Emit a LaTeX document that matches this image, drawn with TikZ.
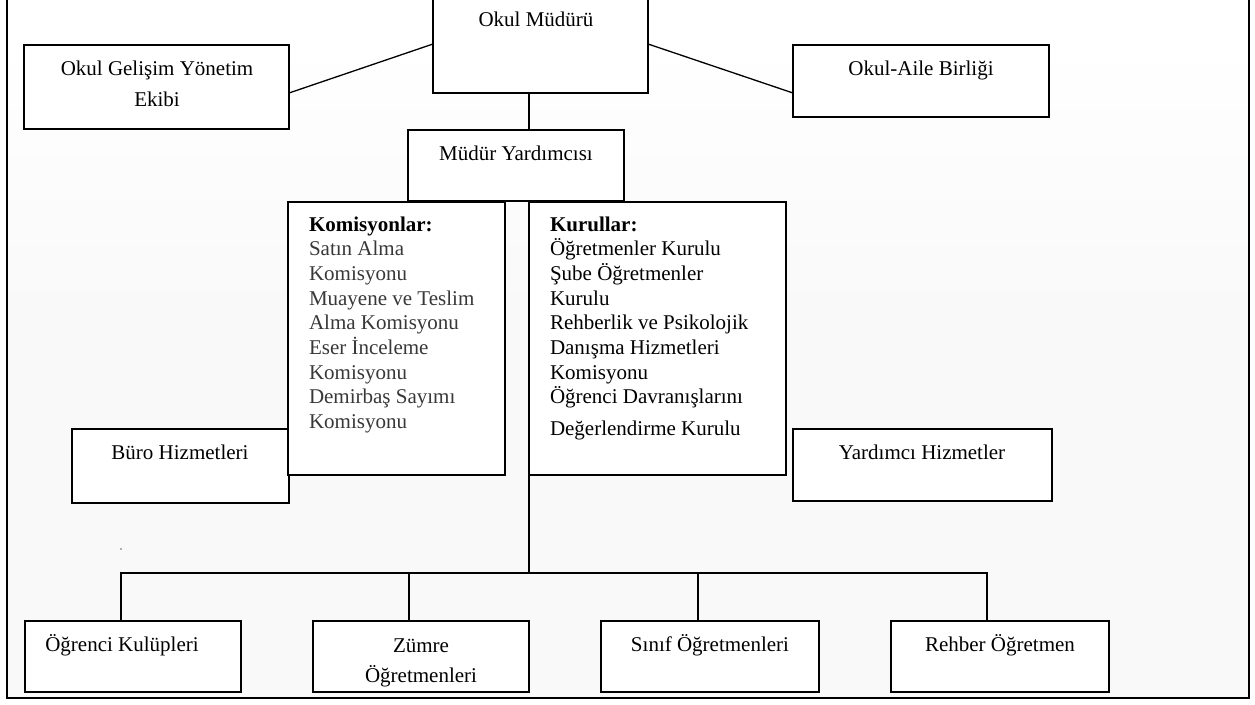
\documentclass[tikz,border=0pt]{standalone}
\usepackage{fontspec}
\setmainfont{Liberation Serif}
\begin{document}
\begin{tikzpicture}[x=1pt,y=-1pt,
  frame/.style={draw=black,line width=1.8pt},
  box/.style={draw=black,line width=1.3pt,fill=white,inner sep=0pt,outer sep=0pt,rectangle,anchor=north west},
  conn/.style={draw=black,line width=1.3pt},
  txt/.style={inner sep=0pt,outer sep=0pt,font=\fontsize{21}{24.7}\selectfont,anchor=base},
  itm/.style={txt,anchor=base west},
  gitm/.style={itm,text=black!78},
]
\useasboundingbox (0,0) rectangle (1255,704);
\begin{scope}
\clip (0,0) rectangle (1255,704);
% background
\fill[white] (0,0) rectangle (1255,704);
\shade[top color=white,bottom color=gray!5] (7,40) rectangle (1249,330);
\fill[gray!5] (7,330) rectangle (1249,698);
\draw[frame] (7,-5) -- (7,698) -- (1249,698) -- (1249,-5);

% top level
\node[box,minimum width=215,minimum height=98] (mudur) at (433,-5) {};
\node[txt] (tmudur) at (536,27) {Okul Müdürü};

\node[box,minimum width=265,minimum height=84] (ogye) at (24,45) {};
\node[txt] (togye1) at (157,75) {Okul Gelişim Yönetim};
\node[txt] (togye2) at (157,106) {Ekibi};

\node[box,minimum width=256,minimum height=72] (oa) at (793,45) {};
\node[txt] (toa) at (921,75) {Okul-Aile Birliği};

\node[box,minimum width=216,minimum height=71] (my) at (408,130) {};
\node[txt] (tmy) at (516,160) {Müdür Yardımcısı};

% side boxes
\node[box,minimum width=217,minimum height=74] (buro) at (72,429) {};
\node[txt] (tburo) at (180,459) {Büro Hizmetleri};

\node[box,minimum width=259,minimum height=72] (yard) at (793,429) {};
\node[txt] (tyard) at (922,459) {Yardımcı Hizmetler};

% lists
\node[box,minimum width=217,minimum height=273] (kom) at (288,202) {};
\node[itm] (kom0) at (309,231) {\textbf{Komisyonlar:}};
\foreach \t [count=\i] in {Satın Alma,Komisyonu,Muayene ve Teslim,Alma Komisyonu,Eser İnceleme,Komisyonu,Demirbaş Sayımı,Komisyonu}
  \node[gitm] (kom\i) at (309,231+24.7*\i) {\t};

\node[box,minimum width=257,minimum height=273] (kur) at (529,202) {};
\node[itm] (kur0) at (550,231) {\textbf{Kurullar:}};
\foreach \t [count=\i] in {Öğretmenler Kurulu,Şube Öğretmenler,Kurulu,Rehberlik ve Psikolojik,Danışma Hizmetleri,Komisyonu,Öğrenci Davranışlarını}
  \node[itm] (kur\i) at (550,231+24.7*\i) {\t};
\node[itm] (kur8) at (550,435) {Değerlendirme Kurulu};

% bottom row
\node[box,minimum width=216,minimum height=71] (ok) at (25,621) {};
\node[txt] (tok) at (122,651) {Öğrenci Kulüpleri};
\node[box,minimum width=216,minimum height=71] (zum) at (313,621) {};
\node[txt] (tzum1) at (421,652) {Zümre};
\node[txt] (tzum2) at (421,682) {Öğretmenleri};
\node[box,minimum width=218,minimum height=71] (sinif) at (601,621) {};
\node[txt] (tsinif) at (710,651) {Sınıf Öğretmenleri};
\node[box,minimum width=218,minimum height=71] (reh) at (891,621) {};
\node[txt] (treh) at (1000,651) {Rehber Öğretmen};

% connectors
\draw[conn] ([yshift=-6pt]ogye.east) -- (mudur.west);
\draw[conn] (mudur.east) -- ([yshift=-12pt]oa.west);
\draw[conn] ([xshift=-11.5pt]mudur.south) -- ([xshift=-11.5pt]mudur.south |- my.north);
\coordinate (bus) at (529,573);
\draw[conn] (kur.south west) -- (bus);
\draw[conn] ([xshift=-12pt]ok.north) -- ([xshift=-12pt]ok.north |- bus) -- ([xshift=-13pt]reh.north |- bus) -- ([xshift=-13pt]reh.north);
\draw[conn] ([xshift=-12pt]zum.north) -- ([xshift=-12pt]zum.north |- bus);
\draw[conn] ([xshift=-12pt]sinif.north) -- ([xshift=-12pt]sinif.north |- bus);

% stray dot
\fill[black!60] (121,549) circle (0.9);
\end{scope}
\end{tikzpicture}
\end{document}
